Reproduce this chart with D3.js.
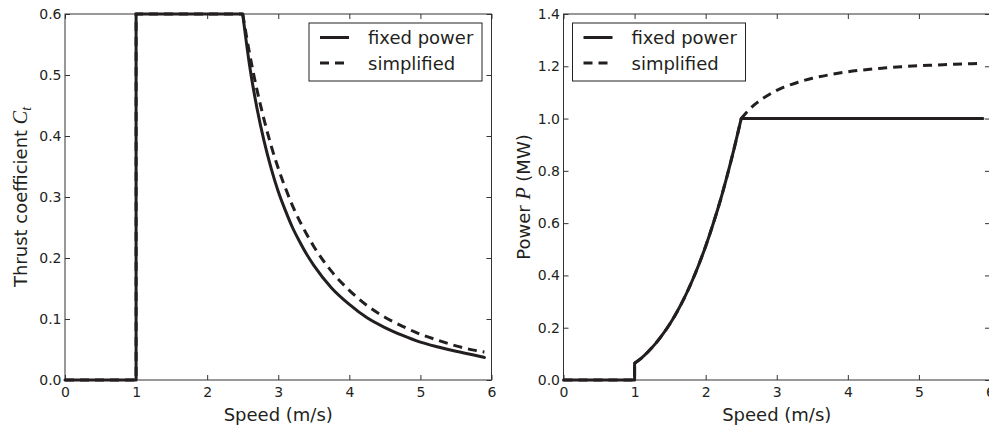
<!DOCTYPE html>
<html>
<head>
<meta charset="utf-8">
<script src="https://cdn.jsdelivr.net/npm/d3@7"></script>
<style>
  body { margin: 0; background: #fff; }
  text { font-family: "DejaVu Sans", sans-serif; fill: #231f20; }
</style>
</head>
<body>
<svg id="chart" width="989" height="430"></svg>
<script>
// ---- data ----
var seriesNames = ["fixed power", "simplified"];

// left panel: thrust coefficient vs speed
var speedCt = [0, 1, 1, 2.5, 2.6, 2.7, 2.8, 2.9, 3.0, 3.1, 3.2, 3.3, 3.4, 3.5,
               3.75, 4.0, 4.25, 4.5, 4.75, 5.0, 5.25, 5.5, 5.75, 5.9];
var ctFixed = [0, 0, 0.6, 0.6, 0.513, 0.446, 0.392, 0.347, 0.309, 0.278, 0.250, 0.227, 0.206, 0.188,
               0.151, 0.124, 0.102, 0.086, 0.073, 0.062, 0.054, 0.047, 0.041, 0.037];
var ctSimple = [0, 0, 0.6, 0.6, 0.533, 0.476, 0.427, 0.384, 0.347, 0.315, 0.286, 0.261, 0.239, 0.219,
                0.178, 0.147, 0.122, 0.103, 0.088, 0.075, 0.065, 0.056, 0.049, 0.046];

// right panel: power (MW) vs speed
var speedP = [0, 1, 1, 1.1, 1.2, 1.3, 1.4, 1.5, 1.6, 1.7, 1.8, 1.9, 2.0, 2.1, 2.2, 2.3, 2.4, 2.5,
              2.6, 2.7, 2.8, 2.9, 3.0, 3.1, 3.2, 3.3, 3.4, 3.5,
              3.75, 4.0, 4.25, 4.5, 4.75, 5.0, 5.25, 5.5, 5.75, 5.9];
var powerFixed = [0, 0, 0.064, 0.085, 0.111, 0.141, 0.176, 0.216, 0.262, 0.314, 0.373, 0.439, 0.512,
                  0.593, 0.681, 0.779, 0.885, 1.0,
                  1.0, 1.0, 1.0, 1.0, 1.0, 1.0, 1.0, 1.0, 1.0, 1.0,
                  1.0, 1.0, 1.0, 1.0, 1.0, 1.0, 1.0, 1.0, 1.0, 1.0];
var powerSimple = [0, 0, 0.064, 0.085, 0.111, 0.141, 0.176, 0.216, 0.262, 0.314, 0.373, 0.439, 0.512,
                   0.593, 0.681, 0.779, 0.885, 1.0,
                   1.031, 1.056, 1.076, 1.093, 1.108, 1.120, 1.130, 1.139, 1.147, 1.154,
                   1.168, 1.179, 1.187, 1.193, 1.198, 1.202, 1.205, 1.208, 1.210, 1.211];

// ticks
var speedTicks = [0, 1, 2, 3, 4, 5, 6];
var ctTicks = [0, 0.1, 0.2, 0.3, 0.4, 0.5, 0.6];
var powerTicks = [0, 0.2, 0.4, 0.6, 0.8, 1.0, 1.2, 1.4];

var ink = "#231f20";
var svg = d3.select("#chart");

function zip(xs, ys) {
  return xs.map(function(x, i) { return [x, ys[i]]; });
}

function drawPanel(opts) {
  var x = d3.scaleLinear().domain([0, 6]).range([opts.left, opts.right]);
  var y = d3.scaleLinear().domain(opts.yDomain).range([380, 14]);
  var g = svg.append("g");

  // ticks on all four sides, pointing inwards
  var tickStyle = function(sel) {
    sel.select(".domain").remove();
    sel.selectAll(".tick line").attr("stroke", "#333");
    sel.selectAll(".tick text").style("font-size", "14px").attr("fill", ink);
  };
  g.append("g").attr("transform", "translate(0,380)")
    .call(d3.axisBottom(x).tickValues(speedTicks).tickFormat(d3.format("d"))
      .tickSizeInner(-5).tickSizeOuter(0).tickPadding(7))
    .call(tickStyle);
  g.append("g").attr("transform", "translate(0,14)")
    .call(d3.axisTop(x).tickValues(speedTicks).tickFormat("").tickSizeInner(-5).tickSizeOuter(0))
    .call(tickStyle);
  g.append("g").attr("transform", "translate(" + opts.left + ",0)")
    .call(d3.axisLeft(y).tickValues(opts.yTicks).tickFormat(d3.format(".1f"))
      .tickSizeInner(-5).tickSizeOuter(0).tickPadding(3.5))
    .call(tickStyle);
  g.append("g").attr("transform", "translate(" + opts.right + ",0)")
    .call(d3.axisRight(y).tickValues(opts.yTicks).tickFormat("").tickSizeInner(-5).tickSizeOuter(0))
    .call(tickStyle);

  g.append("rect")
    .attr("x", opts.left).attr("y", 14)
    .attr("width", opts.right - opts.left).attr("height", 366)
    .attr("fill", "none").attr("stroke", "#333").attr("stroke-width", 1);

  var straight = d3.line()
    .x(function(d) { return x(d[0]); })
    .y(function(d) { return y(d[1]); });
  var smooth = d3.line()
    .x(function(d) { return x(d[0]); })
    .y(function(d) { return y(d[1]); })
    .curve(d3.curveMonotoneX);

  // pieces split at the kinks: [first index, last index, smooth?]
  function pathFor(pts) {
    return opts.pieces.map(function(p) {
      var part = pts.slice(p[0], p[1] + 1);
      return (p[2] ? smooth : straight)(part);
    }).join("");
  }

  g.append("path")
    .attr("d", pathFor(zip(opts.speeds, opts.fixed)))
    .attr("fill", "none").attr("stroke", ink).attr("stroke-width", 3)
    .attr("stroke-linejoin", "round").attr("stroke-linecap", "round");
  g.append("path")
    .attr("d", pathFor(zip(opts.speeds, opts.simple)))
    .attr("fill", "none").attr("stroke", ink).attr("stroke-width", 3)
    .attr("stroke-dasharray", "9,6");

  // x label
  g.append("text")
    .attr("x", (opts.left + opts.right) / 2).attr("y", 421)
    .attr("text-anchor", "middle").style("font-size", "18px")
    .text("Speed (m/s)");

  // y label with italic math symbol
  var yl = g.append("text")
    .attr("transform", "translate(" + opts.labelX + ",197) rotate(-90)")
    .attr("text-anchor", "middle").style("font-size", "18px");
  opts.yLabel(yl);

  // legend
  var lg = g.append("g").attr("transform", "translate(" + opts.legendX + ",23)");
  lg.append("rect").attr("width", 173).attr("height", 58)
    .attr("fill", "#fff").attr("stroke", "#222").attr("stroke-width", 1);
  seriesNames.forEach(function(name, i) {
    var yy = 14.5 + i * 25.5;
    lg.append("line").attr("x1", 11).attr("x2", 40).attr("y1", yy).attr("y2", yy)
      .attr("stroke", ink).attr("stroke-width", 3)
      .attr("stroke-dasharray", i === 1 ? "9,6" : null);
    lg.append("text").attr("x", 59).attr("y", yy + 6.5)
      .style("font-size", "18px").text(name);
  });
}

drawPanel({
  left: 65, right: 491.5, yDomain: [0, 0.6], yTicks: ctTicks,
  speeds: speedCt, fixed: ctFixed, simple: ctSimple,
  pieces: [[0, 3, false], [3, speedCt.length - 1, true]],
  labelX: 27, legendX: 309,
  yLabel: function(t) {
    t.append("tspan").text("Thrust coefficient ");
    t.append("tspan").style("font-family", "'Liberation Serif', serif")
      .style("font-style", "italic").style("font-size", "20px").text("C");
    t.append("tspan").style("font-family", "'Liberation Serif', serif")
      .style("font-style", "italic").style("font-size", "14px").attr("dy", 4).text("t");
  }
});

drawPanel({
  left: 563.5, right: 990, yDomain: [0, 1.4], yTicks: powerTicks,
  speeds: speedP, fixed: powerFixed, simple: powerSimple,
  pieces: [[0, 2, false], [2, 17, true], [17, speedP.length - 1, true]],
  labelX: 529.5, legendX: 572.5,
  yLabel: function(t) {
    t.append("tspan").text("Power ");
    t.append("tspan").style("font-family", "'Liberation Serif', serif")
      .style("font-style", "italic").style("font-size", "20px").text("P");
    t.append("tspan").text(" (MW)");
  }
});
</script>
</body>
</html>
